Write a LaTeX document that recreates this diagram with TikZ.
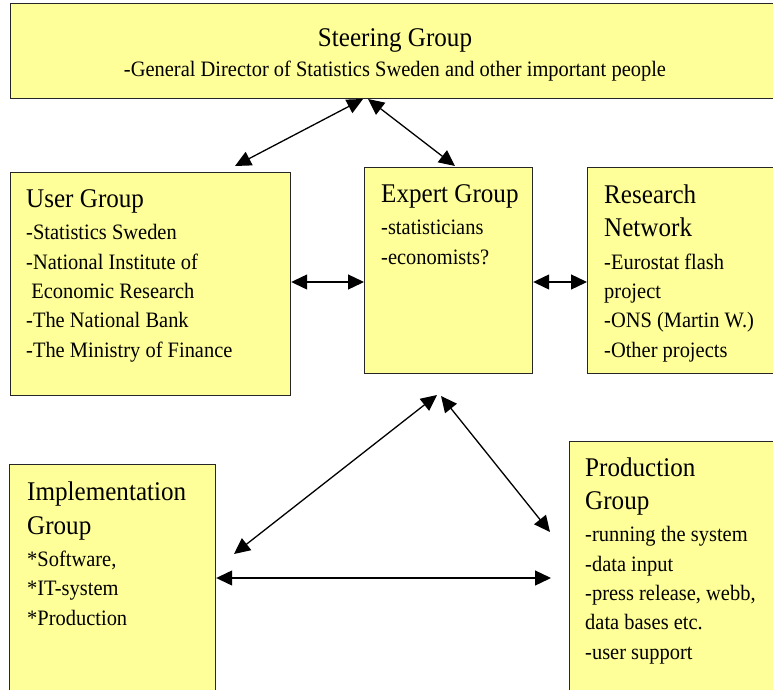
\documentclass[tikz,border=0pt]{standalone}
\usepackage{fontspec}
\setmainfont{Liberation Serif}[FakeStretch=0.93]
\usetikzlibrary{arrows.meta}
\definecolor{boxyellow}{HTML}{FFFF99}
\newcommand{\grouptitle}[1]{{\fontsize{27}{34}\selectfont #1}}

\begin{document}
\begin{tikzpicture}[x=1pt,y=-1pt,>={Triangle[length=16pt,width=15pt]},
  group box/.style={draw=black!85,line width=1.2pt,fill=boxyellow,anchor=north west,inner sep=0pt},
  group text/.style={anchor=base west,align=left,inner sep=0pt,font=\fontsize{22}{29.3}\selectfont},
  link/.style={<->,line width=1.3pt}]

 \useasboundingbox (0,0) rectangle (773,690);
 \fill[white] (0,0) rectangle (773,690);
 \clip (0,0) rectangle (773,690);

 % boxes
 \node[group box,minimum width=800pt,minimum height=95pt] (steer) at (10,3) {};
 \node[group box,minimum width=280pt,minimum height=223pt] (user) at (10,172) {};
 \node[group box,minimum width=168pt,minimum height=206pt] (expert) at (364,167) {};
 \node[group box,minimum width=250pt,minimum height=206pt] (research) at (587,167) {};
 \node[group box,minimum width=206pt,minimum height=300pt] (impl) at (9,464) {};
 \node[group box,minimum width=250pt,minimum height=300pt] (prod) at (569,441) {};

 % texts (base = last line)
 \node[group text,anchor=base,align=center] (steer-t) at (395,77)
   {\grouptitle{Steering Group}\\[1pt]
    -General Director of Statistics Sweden and other important people};
 \node[group text] (user-t) at ([shift={(16,185)}]user.north west)
   {\grouptitle{User Group}\\[3pt]
    -Statistics Sweden\\
    -National Institute of\\
    \ Economic Research\\
    -The National Bank\\
    -The Ministry of Finance};
 \node[group text] (expert-t) at ([shift={(17,97)}]expert.north west)
   {\grouptitle{Expert Group}\\[3pt]
    -statisticians\\
    -economists?};
 \node[group text] (research-t) at ([shift={(17,190)}]research.north west)
   {\grouptitle{Research}\\[4pt]
    \grouptitle{Network}\\[3pt]
    -Eurostat flash\\
    project\\
    -ONS (Martin W.)\\
    -Other projects};
 \node[group text] (impl-t) at ([shift={(18,161)}]impl.north west)
   {\grouptitle{Implementation}\\[4pt]
    \grouptitle{Group}\\[3pt]
    *Software,\\
    *IT-system\\
    *Production};
 \node[group text] (prod-t) at ([shift={(16,218)}]prod.north west)
   {\grouptitle{Production}\\[4pt]
    \grouptitle{Group}\\[3pt]
    -running the system\\
    -data input\\
    -press release, webb,\\
    data bases etc.\\
    -user support};

 % arrow ends
 \coordinate (s1) at (363,99);
 \coordinate (u1) at (235,166);
 \coordinate (s2) at (368,99);
 \coordinate (e1) at (455,166);
 \coordinate (e2) at (437,395);
 \coordinate (i1) at (234,554);
 \coordinate (e3) at (441,396);
 \coordinate (p1) at (550,532);
 \coordinate (p2) at (551,578);

 \draw[link] (s1) -- (u1);
 \draw[link] (s2) -- (e1);
 \draw[link] (user.east |- 0,282) -- (expert.west |- 0,282);
 \draw[link] (expert.east |- 0,282) -- (research.west |- 0,282);
 \draw[link] (e2) -- (i1);
 \draw[link] (e3) -- (p1);
 \draw[link] (impl.east |- p2) -- (p2);

\end{tikzpicture}
\end{document}
